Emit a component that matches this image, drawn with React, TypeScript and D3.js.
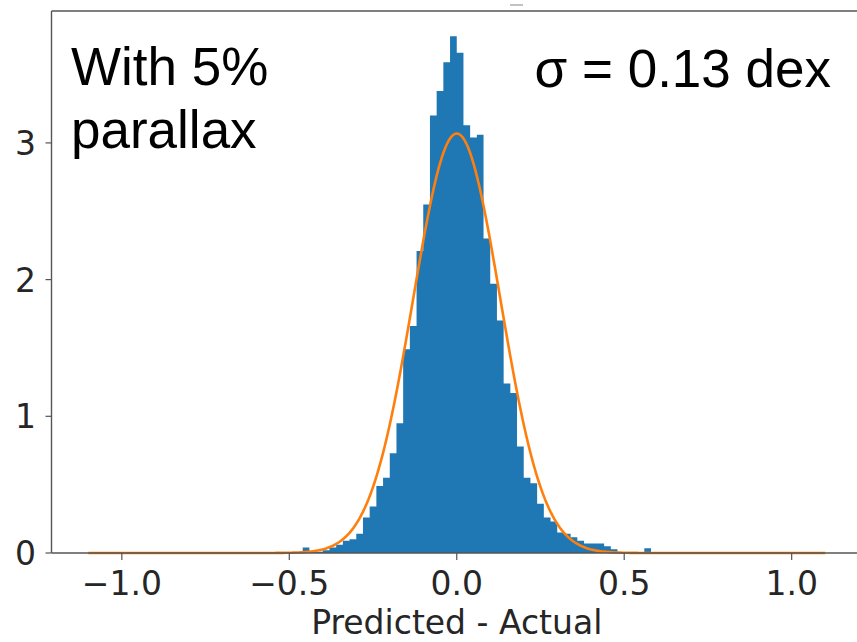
import React from "react";
import * as d3 from "d3";

// Histogram (density): bins of width 0.02 starting at -0.46
const BIN_START = -0.46;
const BIN_WIDTH = 0.02;
const DENSITY = [
  0.04, 0.01, 0.01, 0.02, 0.04, 0.06, 0.09, 0.1, 0.14, 0.26,
  0.34, 0.49, 0.55, 0.73, 0.95, 1.49, 1.66, 2.21, 2.55, 3.2,
  3.38, 3.59, 3.78, 3.66, 3.13, 3.04, 3.06, 2.3, 1.97, 1.7,
  1.24, 1.17, 0.78, 0.55, 0.51, 0.36, 0.26, 0.23, 0.15, 0.14,
  0.115, 0.09, 0.07, 0.07, 0.07, 0.05, 0.027, 0.005, 0.003, 0.002,
  0.002, 0.035,
];

// Gaussian fit parameters
const FIT_MU = 0;
const FIT_SIGMA = 0.13;
const FIT_RANGE = [-1.1, 1.1];

const X_TICKS = [-1.0, -0.5, 0.0, 0.5, 1.0];
const Y_TICKS = [0, 1, 2, 3];
const X_LABEL = "Predicted - Actual";
const NOTE_LEFT = ["With 5%", "parallax"];
const NOTE_RIGHT = "σ = 0.13 dex";

const W = 857;
const H = 642;

export default function App() {
  const x = d3.scaleLinear().domain([-1.21, 1.21]).range([51.5, 862]);
  const y = d3.scaleLinear().domain([0, 3.965]).range([553, 11]);

  const bins = DENSITY.map((d, i) => ({
    x0: BIN_START + i * BIN_WIDTH,
    x1: BIN_START + (i + 1) * BIN_WIDTH,
    h: d,
  }));
  const stepPts: [number, number][] = bins.map((b) => [b.x0, b.h]);
  stepPts.push([bins[bins.length - 1].x1, bins[bins.length - 1].h]);
  const area = d3
    .area<[number, number]>()
    .x((d) => x(d[0]))
    .y0(y(0))
    .y1((d) => y(d[1]))
    .curve(d3.curveStepAfter);

  const n = 400;
  const fit: [number, number][] = d3.range(n + 1).map((i) => {
    const v = FIT_RANGE[0] + ((FIT_RANGE[1] - FIT_RANGE[0]) * i) / n;
    const p =
      Math.exp(-0.5 * ((v - FIT_MU) / FIT_SIGMA) ** 2) /
      (FIT_SIGMA * Math.sqrt(2 * Math.PI));
    return [v, p];
  });
  const line = d3
    .line<[number, number]>()
    .x((d) => x(d[0]))
    .y((d) => y(d[1]));

  const fmt = (v: number) => d3.format(".1f")(v).replace("-", "−");
  const tickFont = "'DejaVu Sans', sans-serif";
  const noteFont = "'Liberation Sans', Arial, sans-serif";

  return (
    <svg
      width={W}
      height={H}
      style={{ position: "absolute", left: 0, top: 0, background: "#fff" }}
    >
      <rect x={0} y={0} width={W} height={H} fill="#fff" />
      <path d={area(stepPts) || ""} fill="#1f77b4" />
      <path
        d={line(fit) || ""}
        fill="none"
        stroke="#ff7f0e"
        strokeWidth={2.6}
        strokeLinejoin="round"
      />
      {/* spines */}
      <line x1={x.range()[0]} x2={W} y1={11} y2={11} stroke="#555" strokeWidth={1.4} />
      <line x1={x.range()[0]} x2={x.range()[0]} y1={11} y2={553} stroke="#555" strokeWidth={1.4} />
      <line x1={x.range()[0]} x2={W} y1={553} y2={553} stroke="#555" strokeWidth={1.4} />
      <line x1={510} x2={523} y1={5} y2={5} stroke="#999" strokeWidth={1.2} />
      {/* x ticks */}
      {X_TICKS.map((t) => (
        <g key={"x" + t}>
          <line x1={x(t)} x2={x(t)} y1={553} y2={560} stroke="#555" strokeWidth={1.2} />
          <text
            x={x(t)}
            y={595}
            textAnchor="middle"
            fontFamily={tickFont}
            fontSize={33}
            fill="#262626"
          >
            {fmt(t)}
          </text>
        </g>
      ))}
      {/* y ticks */}
      {Y_TICKS.map((t) => (
        <g key={"y" + t}>
          <line x1={x.range()[0] - 6} x2={x.range()[0]} y1={y(t)} y2={y(t)} stroke="#555" strokeWidth={1.2} />
          <text
            x={36}
            y={y(t) + 12}
            textAnchor="end"
            fontFamily={tickFont}
            fontSize={33}
            fill="#262626"
          >
            {t}
          </text>
        </g>
      ))}
      <text
        x={x(0)}
        y={634}
        textAnchor="middle"
        fontFamily={tickFont}
        fontSize={33}
        fill="#262626"
      >
        {X_LABEL}
      </text>
      {NOTE_LEFT.map((s, i) => (
        <text
          key={s}
          x={71}
          y={85 + i * 63}
          fontFamily={noteFont}
          fontSize={53}
          fill="#000"
        >
          {s}
        </text>
      ))}
      <text
        x={831}
        y={87}
        textAnchor="end"
        fontFamily={noteFont}
        fontSize={53}
        fill="#000"
      >
        {NOTE_RIGHT}
      </text>
    </svg>
  );
}
